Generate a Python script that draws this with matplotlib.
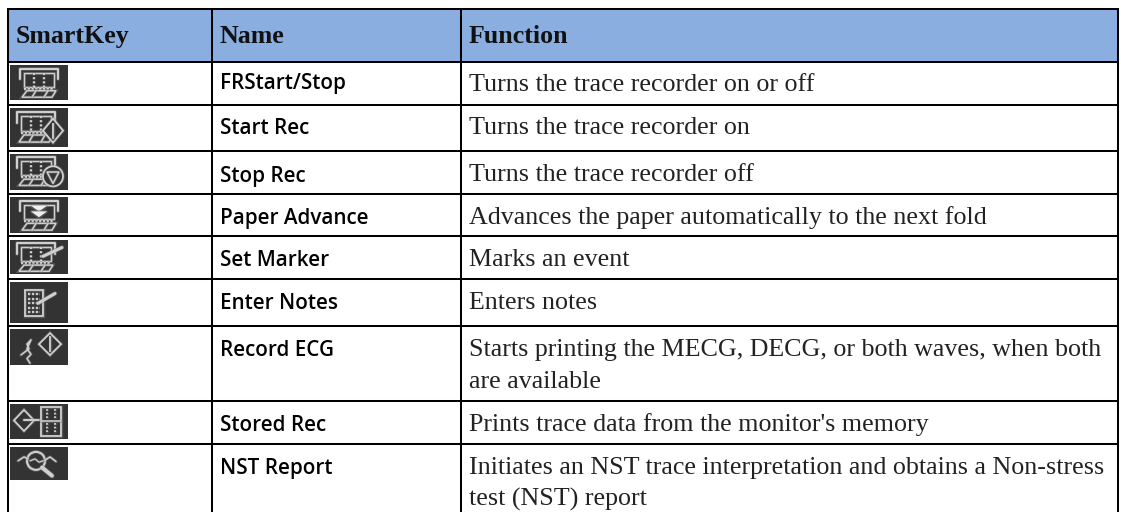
import matplotlib
matplotlib.use('Agg')
import matplotlib.pyplot as plt
import matplotlib.patheffects as pe
from matplotlib.patches import Rectangle, Polygon, Circle

# table contents
headers = ['SmartKey', 'Name', 'Function']
names = ['FRStart/Stop', 'Start Rec', 'Stop Rec', 'Paper Advance', 'Set Marker',
         'Enter Notes', 'Record ECG', 'Stored Rec', 'NST Report']
functions = [
    ['Turns the trace recorder on or off'],
    ['Turns the trace recorder on'],
    ['Turns the trace recorder off'],
    ['Advances the paper automatically to the next fold'],
    ['Marks an event'],
    ['Enters notes'],
    ['Starts printing the MECG, DECG, or both waves, when both', 'are available'],
    ["Prints trace data from the monitor's memory"],
    ['Initiates an NST trace interpretation and obtains a Non-stress', 'test (NST) report'],
]
icons = ['printer', 'start', 'stop', 'advance', 'marker', 'notes', 'ecg', 'stored', 'nst']

# layout in pixels
col_x = [8, 212, 461, 1118]
row_y = [9, 62, 105, 151, 194, 236, 279, 326, 401, 444]
icon_y = [(65, 100), (108, 147), (154, 190), (197, 233), (240, 274),
          (282, 323), (329, 365), (404, 439), (447, 480)]
icon_x = (10, 68)
name_base = [89, 134, 182, 224, 266, 309, 356, 431, 474]
func_base = [91, 134, 181, 224, 266, 309, 356, 431, 474]
line_gap = 31.5

fig = plt.figure(figsize=(11.21, 5.12), dpi=100)
ax = fig.add_axes([0, 0, 1, 1])
ax.set_xlim(0, 1121)
ax.set_ylim(512, 0)
ax.axis('off')

GLYPH = '#cfcfcf'
DARK = '#333333'


def line(x, y, lw=1.1):
    ax.plot(x, y, color=GLYPH, lw=lw, solid_capstyle='round', zorder=4)


def draw_printer(x0, y0, h, waves=True):
    # hood, paper window and slanted base of the recorder glyph
    t = y0 + h * 0.1
    m = y0 + h * 0.62
    line([x0 + 10, x0 + 10, x0 + 48, x0 + 48], [t + h * 0.3, t, t, t + h * 0.3], 1.5)
    ax.add_patch(Rectangle((x0 + 14, t + 4), 30, m - t - 4, fc='none', ec=GLYPH, lw=1.0, zorder=4))
    if waves:
        for k in (24, 34):
            ax.plot([x0 + k, x0 + k], [t + 4, m], color=GLYPH, lw=1.5, ls=(0, (1, 1)), zorder=4)
    ax.plot([x0 + 14, x0 + 44], [m + 2, m + 2], color=GLYPH, lw=1.6, ls=(0, (1, 0.7)), zorder=4)
    base = y0 + h * 0.92
    ax.add_patch(Polygon([(x0 + 17, m + 4), (x0 + 46, m + 4), (x0 + 42, base), (x0 + 12, base)],
                         fc='none', ec=GLYPH, lw=1.1, zorder=4))
    line([x0 + 26, x0 + 22], [m + 4, base])
    line([x0 + 38, x0 + 34], [m + 4, base])


def draw_diamond(cx, cy, rx, ry):
    ax.add_patch(Polygon([(cx - rx, cy), (cx, cy - ry), (cx + rx, cy), (cx, cy + ry)],
                         fc=DARK, ec=GLYPH, lw=1.3, zorder=5))


def draw_icon(kind, y0, y1):
    x0 = icon_x[0]
    h = y1 - y0
    ax.add_patch(Rectangle((x0, y0), icon_x[1] - x0, h, fc=DARK, ec='none', zorder=3))
    if kind == 'printer':
        draw_printer(x0, y0, h)
    elif kind == 'start':
        draw_printer(x0 - 3, y0, h * 0.95)
        draw_diamond(x0 + 43, y0 + h * 0.58, 10, 12)
        ax.plot([x0 + 43, x0 + 43], [y0 + h * 0.58 - 7, y0 + h * 0.58 + 7], color=GLYPH, lw=1.3, zorder=6)
    elif kind == 'stop':
        draw_printer(x0 - 3, y0, h * 0.95)
        ax.add_patch(Circle((x0 + 43, y0 + h * 0.62), 10, fc=DARK, ec=GLYPH, lw=1.3, zorder=5))
        ax.add_patch(Polygon([(x0 + 37, y0 + h * 0.5), (x0 + 49, y0 + h * 0.5), (x0 + 43, y0 + h * 0.82)],
                             fc='none', ec=GLYPH, lw=1.1, zorder=6))
    elif kind == 'advance':
        draw_printer(x0, y0, h, waves=False)
        for dy in (0.24, 0.4):
            ax.add_patch(Polygon([(x0 + 21, y0 + h * dy), (x0 + 37, y0 + h * dy), (x0 + 29, y0 + h * (dy + 0.16))],
                                 fc='#eeeeee', ec='none', zorder=6))
    elif kind == 'marker':
        draw_printer(x0 - 3, y0, h)
        line([x0 + 33, x0 + 52], [y0 + h * 0.48, y0 + h * 0.22], 2.2)
    elif kind == 'notes':
        ax.add_patch(Rectangle((x0 + 15, y0 + h * 0.2), 18, h * 0.62, fc='none', ec=GLYPH, lw=1.3, zorder=4))
        for f in (0.3, 0.41, 0.52, 0.63, 0.73):
            ax.plot([x0 + 18, x0 + 30], [y0 + h * f, y0 + h * f], color=GLYPH, lw=1.4, ls=(0, (1.2, 0.8)), zorder=4)
        line([x0 + 28, x0 + 45], [y0 + h * 0.52, y0 + h * 0.28], 2.2)
    elif kind == 'ecg':
        line([x0 + 11, x0 + 19, x0 + 17, x0 + 21, x0 + 17, x0 + 21, x0 + 17, x0 + 20],
             [y0 + h * 0.72, y0 + h * 0.55, y0 + h * 0.42, y0 + h * 0.3, y0 + h * 0.55,
              y0 + h * 0.7, y0 + h * 0.82, y0 + h * 0.95])
        draw_diamond(x0 + 40, y0 + h * 0.42, 11, 11)
        ax.plot([x0 + 40, x0 + 40], [y0 + h * 0.42 - 7, y0 + h * 0.42 + 7], color=GLYPH, lw=1.3, zorder=6)
    elif kind == 'stored':
        ax.add_patch(Polygon([(x0 + 4, y0 + h * 0.47), (x0 + 14, y0 + h * 0.17), (x0 + 24, y0 + h * 0.47),
                              (x0 + 14, y0 + h * 0.77)], fc=DARK, ec=GLYPH, lw=1.3, zorder=4))
        line([x0 + 14, x0 + 29], [y0 + h * 0.47, y0 + h * 0.47], 1.4)
        ax.add_patch(Rectangle((x0 + 31, y0 + h * 0.08), 20, h * 0.84, fc='none', ec=GLYPH, lw=1.3, zorder=4))
        line([x0 + 31, x0 + 51], [y0 + h * 0.48, y0 + h * 0.48])
        for k in (37, 45):
            ax.plot([x0 + k, x0 + k], [y0 + h * 0.15, y0 + h * 0.42], color=GLYPH, lw=1.3, ls=(0, (1, 1)), zorder=4)
            ax.plot([x0 + k, x0 + k], [y0 + h * 0.55, y0 + h * 0.85], color=GLYPH, lw=1.3, ls=(0, (1, 1)), zorder=4)
    elif kind == 'nst':
        ax.add_patch(Circle((x0 + 26, y0 + h * 0.42), 9, fc='none', ec=GLYPH, lw=1.5, zorder=4))
        line([x0 + 32, x0 + 42], [y0 + h * 0.62, y0 + h * 0.87], 2.8)
        line([x0 + 8, x0 + 14, x0 + 18], [y0 + h * 0.42, y0 + h * 0.3, y0 + h * 0.36])
        line([x0 + 34, x0 + 40, x0 + 46], [y0 + h * 0.42, y0 + h * 0.3, y0 + h * 0.44])
        line([x0 + 20, x0 + 25, x0 + 29, x0 + 33], [y0 + h * 0.42, y0 + h * 0.36, y0 + h * 0.46, y0 + h * 0.42], 0.9)


# header band
ax.add_patch(Rectangle((col_x[0], row_y[0]), col_x[-1] - col_x[0], row_y[1] - row_y[0],
                       fc='#8aaee0', ec='none', zorder=1))

# grid lines, the table runs off the bottom of the picture
for y in row_y:
    ax.plot([col_x[0] - 1, col_x[-1] + 1], [y, y], color='black', lw=1.45, solid_capstyle='butt', zorder=2)
for x in col_x:
    ax.plot([x, x], [row_y[0], 512], color='black', lw=1.45, solid_capstyle='butt', zorder=2)

# header text
for x, label in zip(col_x, headers):
    ax.text(x + 8, 43, label, family='Liberation Serif', fontweight='bold', fontsize=18.6,
            color='#111111', va='baseline', ha='left')

# rows
for i, name in enumerate(names):
    draw_icon(icons[i], *icon_y[i])
    ax.text(col_x[1] + 8, name_base[i], name, family='Open Sans', fontweight='semibold', fontsize=14.9,
            color='black', va='baseline', ha='left')
    for j, txt in enumerate(functions[i]):
        ax.text(col_x[2] + 8, func_base[i] + j * line_gap, txt, family='Liberation Serif', fontsize=18.7,
                color='#222222', va='baseline', ha='left')

# soft edge on the icon strokes, the originals are blurry screenshots
for art in list(ax.lines) + list(ax.patches):
    if art.get_zorder() >= 4:
        art.set_path_effects([pe.withStroke(linewidth=art.get_linewidth() + 1.2, foreground='#777777', alpha=0.5)])

fig.savefig('out.png', dpi=100, facecolor='white')
